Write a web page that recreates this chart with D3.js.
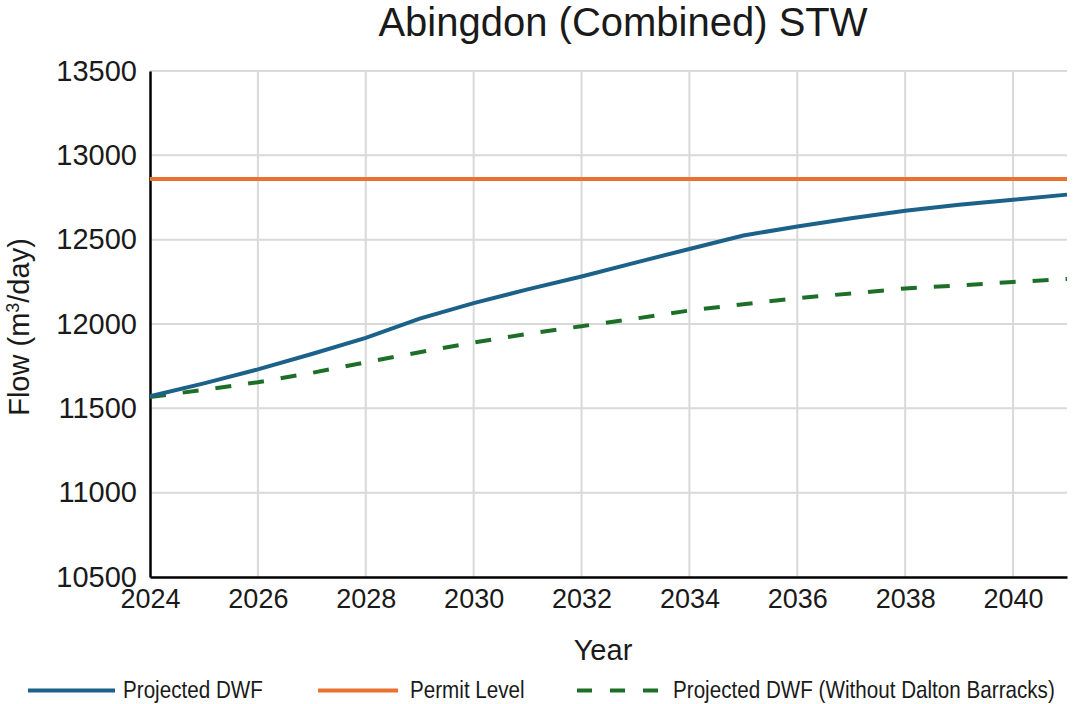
<!DOCTYPE html>
<html>
<head>
<meta charset="utf-8">
<script src="https://cdn.jsdelivr.net/npm/d3@7"></script>
<style>
  body { margin: 0; background: #fff; }
  svg { display: block; }
  text { font-family: "Liberation Sans", Arial, sans-serif; fill: #1a1a1a; }
</style>
</head>
<body>
<svg id="chart" width="1085" height="704"></svg>
<script>
// Projection years and flows (m³/day)
const years = [2024, 2025, 2026, 2027, 2028, 2029, 2030, 2031, 2032, 2033, 2034, 2035, 2036, 2037, 2038, 2039, 2040, 2041];
const projectedDWF = [11572, 11648, 11731, 11822, 11918, 12032, 12124, 12205, 12282, 12364, 12445, 12525, 12578, 12627, 12672, 12707, 12737, 12767];
const withoutDalton = [11567, 11610, 11655, 11710, 11773, 11833, 11890, 11942, 11987, 12032, 12080, 12117, 12153, 12181, 12211, 12229, 12249, 12267];
const permitLevel = 12860;

const xTicks = [2024, 2026, 2028, 2030, 2032, 2034, 2036, 2038, 2040];
const yTicks = [10500, 11000, 11500, 12000, 12500, 13000, 13500];

const seriesNames = ["Projected DWF", "Permit Level", "Projected DWF (Without Dalton Barracks)"];
const colors = { blue: "#1b6189", orange: "#e97132", green: "#1d6f27" };

const svg = d3.select("#chart");
const plot = { left: 150, right: 1067, top: 71, bottom: 577 };

const x = d3.scaleLinear().domain([2024, 2041]).range([plot.left, plot.right]);
const y = d3.scaleLinear().domain([10500, 13500]).range([plot.bottom, plot.top]);

// Title
svg.append("text")
  .attr("x", 623).attr("y", 36)
  .attr("text-anchor", "middle")
  .style("font-size", "40px")
  .text("Abingdon (Combined) STW");

// Gridlines
const grid = svg.append("g");
grid.selectAll(".hg").data(yTicks.filter(d => d > 10500)).join("line")
  .attr("x1", plot.left).attr("x2", plot.right)
  .attr("y1", d => y(d)).attr("y2", d => y(d))
  .attr("stroke", "#d9d9d9").attr("stroke-width", 2);
grid.selectAll(".vg").data(xTicks.filter(d => d > 2024)).join("line")
  .attr("x1", d => x(d)).attr("x2", d => x(d))
  .attr("y1", plot.top).attr("y2", plot.bottom)
  .attr("stroke", "#d9d9d9").attr("stroke-width", 2);

// Axes
const yAxis = svg.append("g")
  .attr("transform", `translate(${plot.left},0)`)
  .call(d3.axisLeft(y).tickValues(yTicks).tickSize(0).tickPadding(13).tickFormat(d3.format("d")));
const xAxis = svg.append("g")
  .attr("transform", `translate(0,${plot.bottom})`)
  .call(d3.axisBottom(x).tickValues(xTicks).tickSize(0).tickPadding(12).tickFormat(d3.format("d")));
[yAxis, xAxis].forEach(a => {
  a.select(".domain").attr("stroke", "#000").attr("stroke-width", 2.5);
  a.selectAll("text").attr("fill", "#1a1a1a")
    .style("font-family", "\"Liberation Sans\", Arial, sans-serif");
});
yAxis.selectAll("text").style("font-size", "29px");
xAxis.selectAll("text").style("font-size", "27px");

// Axis titles
svg.append("text")
  .attr("x", 603).attr("y", 660)
  .attr("text-anchor", "middle")
  .style("font-size", "29px")
  .text("Year");
const yTitle = svg.append("text")
  .attr("transform", "translate(29,327) rotate(-90)")
  .attr("text-anchor", "middle")
  .style("font-size", "29px");
yTitle.append("tspan").text("Flow (m");
yTitle.append("tspan").attr("dy", -10).style("font-size", "18px").text("3");
yTitle.append("tspan").attr("dy", 10).text("/day)");

// Lines
const line = d3.line().x((d, i) => x(years[i])).y(d => y(d));
svg.append("path").datum(years.map(() => permitLevel))
  .attr("d", line).attr("fill", "none")
  .attr("stroke", colors.orange).attr("stroke-width", 4);
svg.append("path").datum(withoutDalton)
  .attr("d", line).attr("fill", "none")
  .attr("stroke", colors.green).attr("stroke-width", 4)
  .attr("stroke-dasharray", "16,17");
svg.append("path").datum(projectedDWF)
  .attr("d", line).attr("fill", "none")
  .attr("stroke", colors.blue).attr("stroke-width", 4);

// Legend
const legendItems = [
  { name: seriesNames[0], color: colors.blue, dash: null, x0: 28, x1: 115, tx: 123 },
  { name: seriesNames[1], color: colors.orange, dash: null, x0: 318, x1: 398, tx: 410 },
  { name: seriesNames[2], color: colors.green, dash: "15,18", x0: 577, x1: 660, tx: 673 }
];
const legend = svg.append("g");
legendItems.forEach(it => {
  legend.append("line")
    .attr("x1", it.x0).attr("x2", it.x1).attr("y1", 690.5).attr("y2", 690.5)
    .attr("stroke", it.color).attr("stroke-width", 4)
    .attr("stroke-dasharray", it.dash);
  legend.append("text")
    .attr("transform", `translate(${it.tx},698) scale(0.86,1)`)
    .style("font-size", "24px")
    .attr("fill", "#333")
    .text(it.name);
});
</script>
</body>
</html>
